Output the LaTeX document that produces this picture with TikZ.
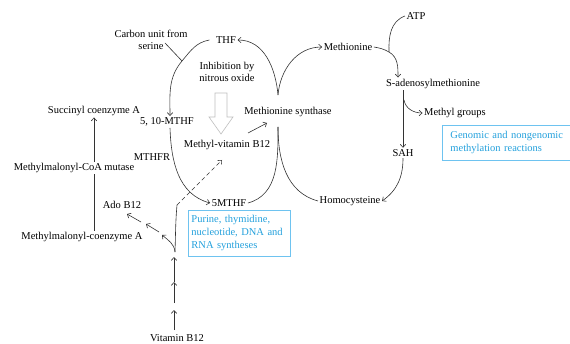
\documentclass[tikz,border=0pt]{standalone}
\usepackage{fontspec}
\setmainfont{Liberation Serif}
\usetikzlibrary{arrows.meta}
\definecolor{boxblue}{RGB}{110,195,240}
\definecolor{textblue}{RGB}{35,160,220}
\tikzset{%
  metab/.style={inner sep=1.5pt, align=center, font=\fontsize{10.5}{12}\selectfont},
  plain/.style={draw=black!80, line width=0.6pt},
  flow/.style={plain, -{Straight Barb[length=3pt,width=5.5pt]}},
  info box/.style={draw=boxblue, line width=0.9pt, text=textblue, align=left,
    anchor=north west, inner ysep=3pt, font=\fontsize{10.5}{13}\selectfont},
  block arrow/.style={draw=black!25, fill=white, line width=0.6pt},
}
\newcommand{\CycleCoords}{
  \coordinate (join) at (182,282);% serine meets THF curve
  \coordinate (serine end) at (165,300);
  \coordinate (top cusp) at (278,248);% above Methionine synthase
  \coordinate (bot cusp) at (278,216);% below Methionine synthase
  \coordinate (atp join) at (389,291);
  \coordinate (sam out) at (404,243);
  \coordinate (vit top) at (175,91);
  \coordinate (dash start) at (177,138);
  \coordinate (dash end) at (222,183);
  \coordinate (ms1) at (248,210);
  \coordinate (ms2) at (267,220);
  % Ado B12 arrow pieces
  \coordinate (a1) at (162,108);
  \coordinate (a2) at (159,111);
  \coordinate (a3) at (146,119);
  \coordinate (a4) at (141,121);
  \coordinate (a5) at (127,129);
  % vitamin B12 chain
  \foreach \i/\yy in {1/13, 2/33, 3/40, 4/61, 5/86} {
    \coordinate (v\i) at (174,\yy);
  }
}

\begin{document}
\begin{tikzpicture}[x=1pt,y=1pt]
  \useasboundingbox (0,0) rectangle (570,343);
  \CycleCoords% makes coordinates available
  % folate cycle
  \node[metab] (carbon) at (151,303) {Carbon unit from\\serine};
  \node[metab] (THF) at (226,303) {THF};
  \node[metab] (inhib) at (227,271) {Inhibition by\\nitrous oxide};
  \node[metab] (MTHFa) at (167,221) {5, 10-MTHF};
  \node[metab] (synth) at (288,231) {Methionine synthase};
  \node[metab] (metB) at (227,198) {Methyl-vitamin B12};
  \node[metab] (MTHFR) at (152,186) {MTHFR};
  \node[metab] (MTHFb) at (229,140) {5MTHF};
  % vitamin B12 side
  \node[metab] (succinyl) at (94,232) {Succinyl coenzyme A};
  \node[metab] (mutase) at (74,175) {Methylmalonyl-CoA mutase};
  \node[metab] (ado) at (122,138) {Ado B12};
  \node[metab] (malonyl) at (82,106) {Methylmalonyl-coenzyme A};
  \node[metab, anchor=south] (vitB) at (177,0) {Vitamin B12};
  % methionine cycle
  \node[metab] (met) at (348,296) {Methionine};
  \node[metab] (ATP) at (416,327) {ATP};
  \node[metab] (SAM) at (433,259) {S-adenosylmethionine};
  \node[metab] (methyl) at (455,230) {Methyl groups};
  \node[metab] (SAH) at (403,190) {SAH};
  \node[metab] (homocys) at (350,142) {Homocysteine};
  \node[info box, text width=96pt, inner xsep=3pt, minimum height=46pt] (purine)
    at (188,133) {Purine, thymidine,\\nucleotide, DNA and\\RNA syntheses};
  \node[info box, text width=118pt, inner xsep=8pt, minimum height=35pt] (genomic)
    at (442,218) {Genomic and nongenomic\\methylation reactions};

  \draw[block arrow] (215,250) -- (227,250) -- (227,226) -- (233,226)
    -- (221,209) -- (209,226) -- (215,226) -- cycle;

  \draw[plain] ([xshift=-5pt]THF.west) to[out=190,in=50] (join);
  \draw[flow] (join) to[out=230,in=90] ([xshift=3pt]MTHFa.north);
  \draw[plain] (serine end) -- (join);
  \draw[flow] ([xshift=3pt]MTHFa.south) to[out=-88,in=165] (MTHFb.west);
  \draw[plain] (MTHFb.east) to[out=15,in=-90] (bot cusp);
  \draw[plain] (homocys.west) to[out=165,in=-90] (bot cusp);
  \draw[flow] (top cusp) to[out=95,in=0] (THF.east);
  \draw[flow] (top cusp) to[out=85,in=180] (met.west);
  \draw[flow] (ms1) -- (ms2);

  \draw[plain] (met.east) to[out=-10,in=150] (atp join);
  \draw[plain] (ATP.west) to[out=200,in=92] (atp join);
  \draw[flow] (atp join) to[out=-30,in=90] ([xshift=-35pt]SAM.north);
  \draw[flow] (SAM.south -| SAH.north) -- (SAH.north);
  \draw[flow] (sam out) to[out=-80,in=180] (methyl.west);
  \draw[flow] (SAH.south) to[out=-90,in=35] (homocys.east);

  \draw[flow] (mutase.north -| succinyl.south) -- (succinyl.south);
  \draw[plain] (malonyl.north -| succinyl.south) -- (mutase.south -| succinyl.south);

  \foreach \s/\e in {v1/v2, v3/v4, v4/v5} {
    \draw[flow] (\s) -- (\e);
  }
  \draw[flow] (vit top) to[out=95,in=-40] (a1);
  \draw[flow] (a2) -- (a3);
  \draw[flow] (a4) -- (a5);
  \draw[plain] (vit top) to[out=88,in=-95] (dash start);
  \draw[flow, dash pattern=on 4pt off 3pt] (dash start) -- (dash end);
\end{tikzpicture}
\end{document}
